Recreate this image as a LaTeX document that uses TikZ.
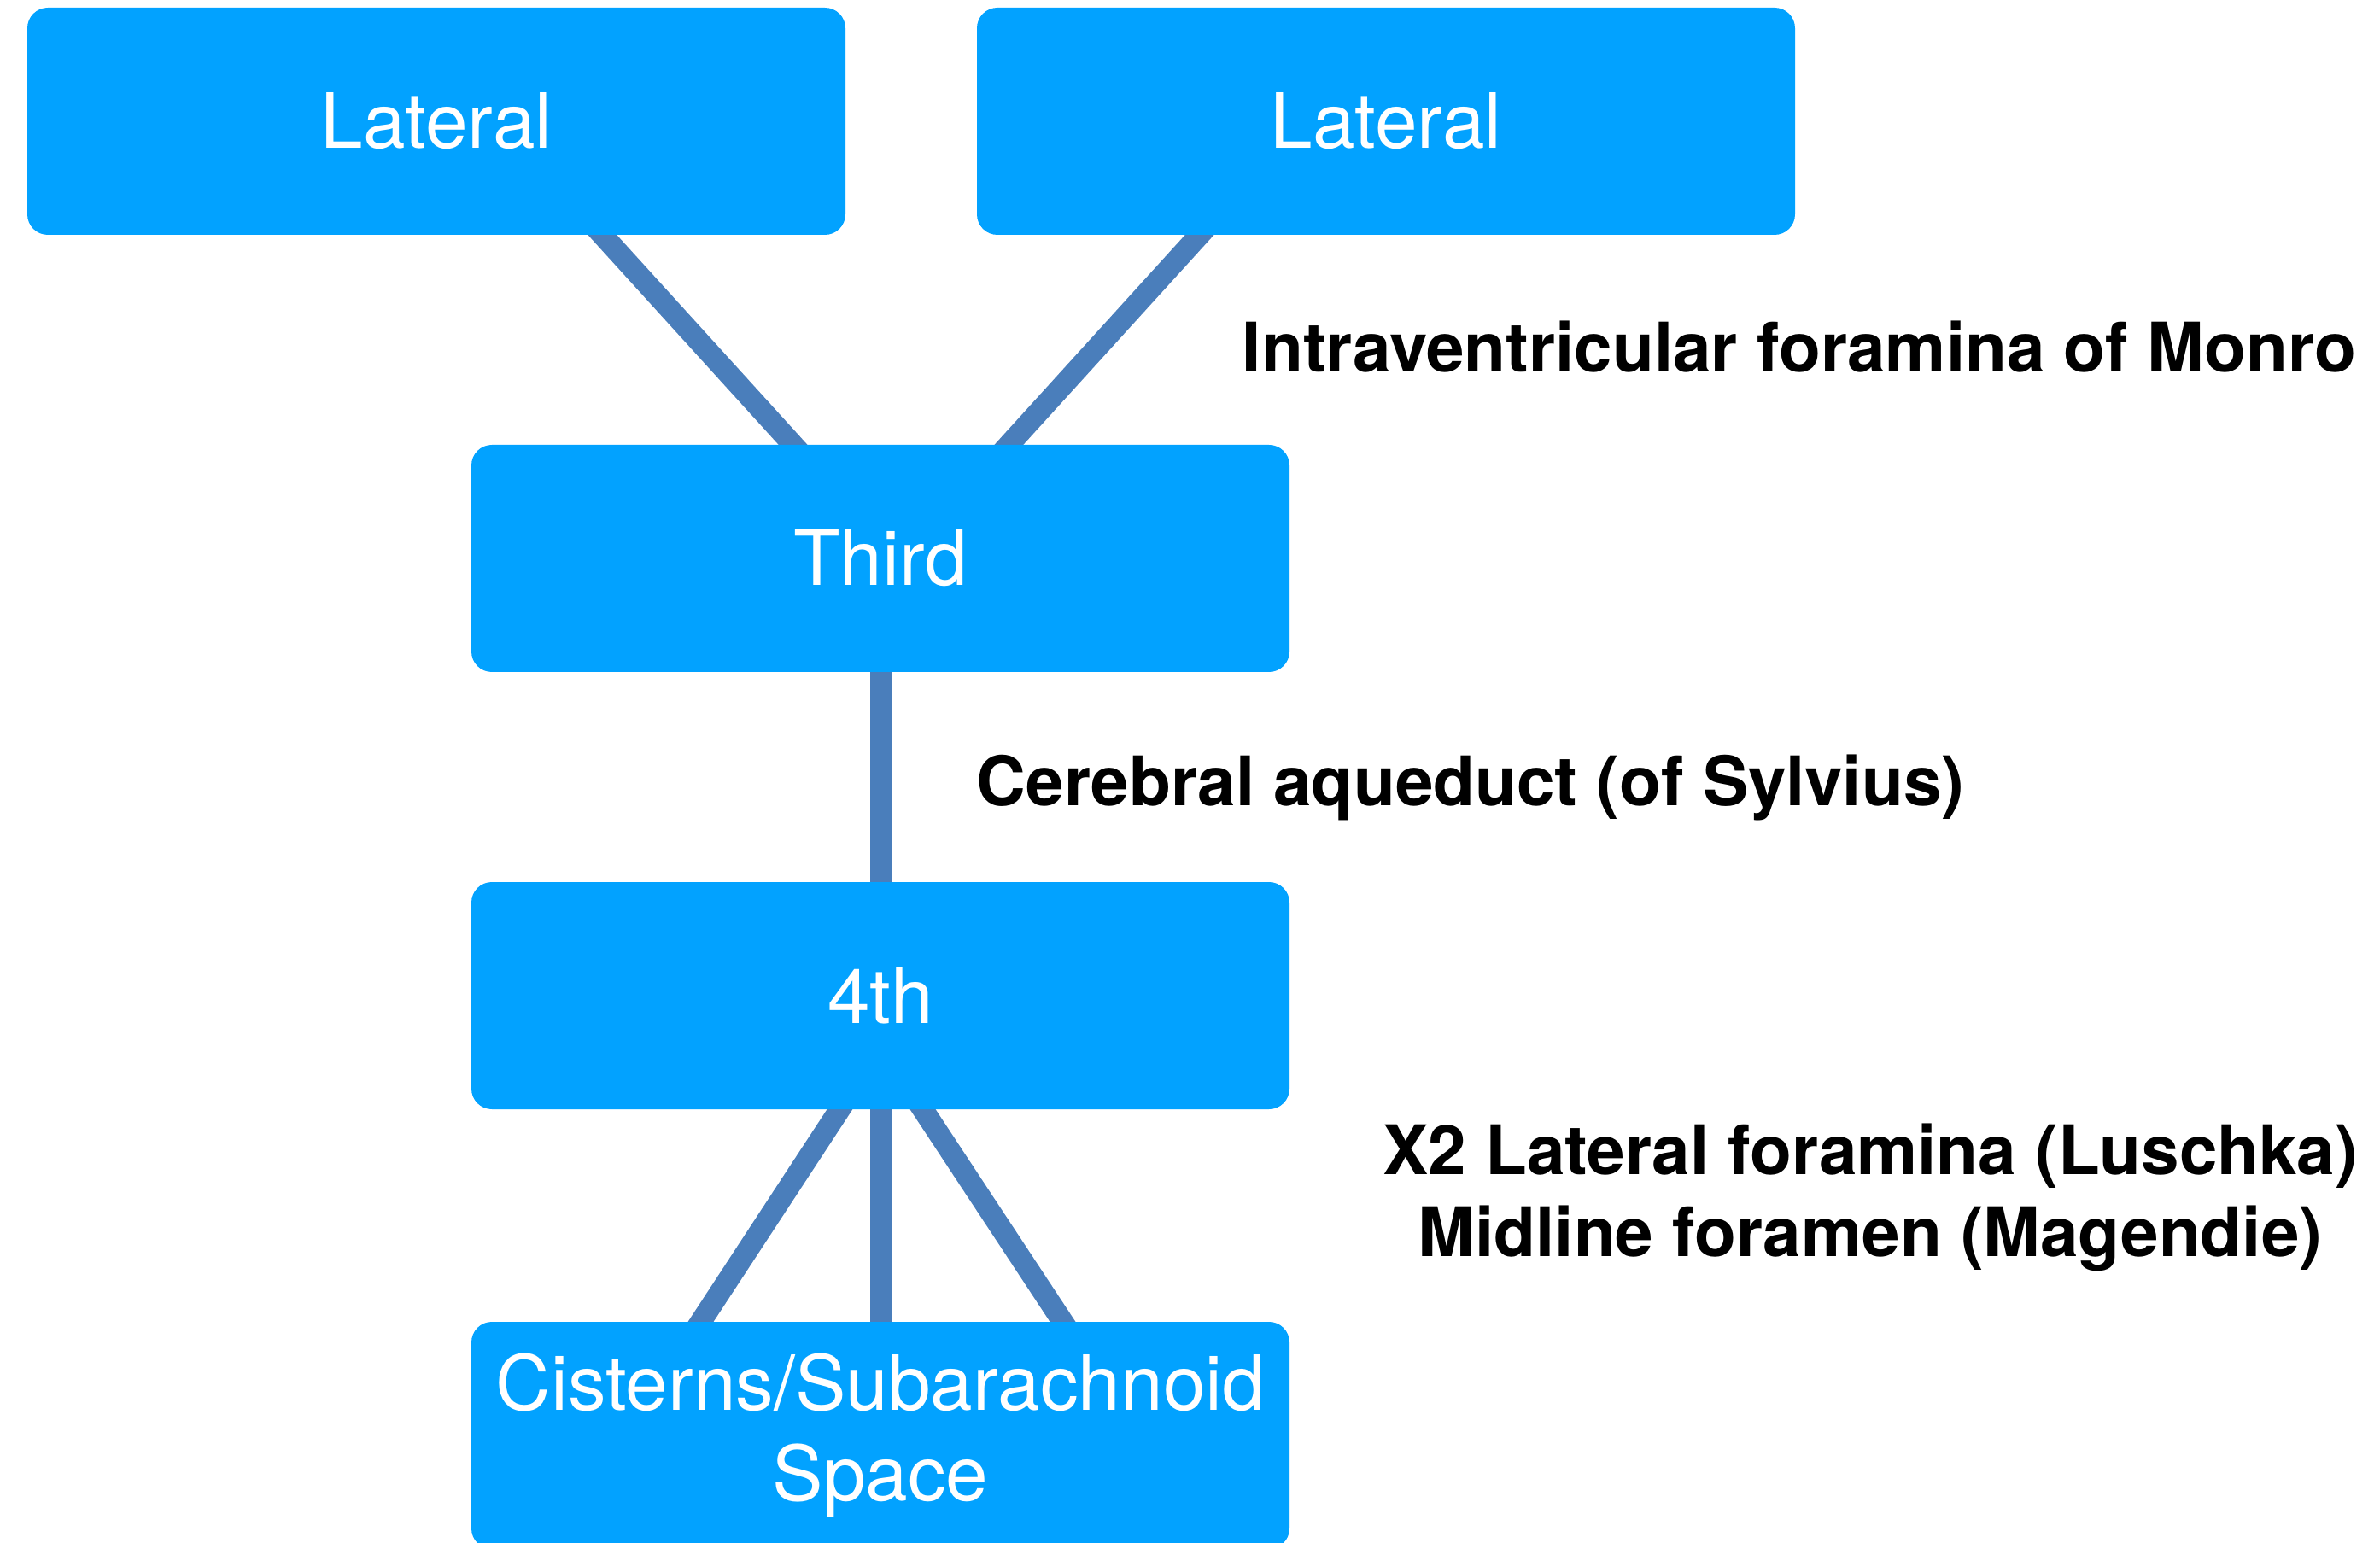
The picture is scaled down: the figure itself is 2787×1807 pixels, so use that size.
\documentclass[tikz,border=0pt]{standalone}
\usepackage{fontspec}
\setmainfont{TeX Gyre Heros}
\usepackage{tikz}
\usetikzlibrary{backgrounds}
\definecolor{boxblue}{RGB}{2,162,255}
\definecolor{ductblue}{RGB}{74,126,187}

\begin{document}
\begin{tikzpicture}[x=0.25pt,y=-0.25pt]
        \useasboundingbox (0,0) rectangle (2787,1807);
        \begin{scope}[every node/.style={fill=boxblue,rounded corners=6pt,minimum width=239.5pt,minimum height=66.5pt,inner sep=0pt,text=white,align=center,font=\fontsize{22.3}{26.6}\selectfont}]
            \node (1) at (511,142) {Lateral};
            \node (2) at (1623,142) {Lateral};

            \node (3) at (1031,654) {Third};

            \node (4) at (1031,1166) {4th};

            \node (5) at (1031,1681) {Cisterns/Subarachnoid\\Space};
        \end{scope}
        \begin{scope}[every node/.style={font=\bfseries\fontsize{20}{24}\selectfont,align=center}]
            \node (6) at (2107,406) {Intraventricular foramina of Monro};
            \node (7) at (1722,922) {Cerebral aqueduct (of Sylvius)};
            \node (8) at (2190,1402) {X2 Lateral foramina (Luschka)\\Midline foramen (Magendie)};
        \end{scope}
        \begin{scope}[on background layer,every edge/.style={draw=ductblue,line width=6.25pt,shorten <=-8pt,shorten >=-8pt}]
            \path [-] ([xshift=48.75pt]1.south) edge node {} ([xshift=-25.75pt]3.north);
            \path [-] ([xshift=-54.75pt]2.south) edge node {} ([xshift=37.75pt]3.north);

            \path [-] (3.south) edge node {} (4.north);

            \path [-] ([xshift=-12pt]4.south) edge node {} ([xshift=-52.5pt]5.north);
            \path [-] (4.south) edge node {} (5.north);
            \path [-] ([xshift=12.5pt]4.south) edge node {} ([xshift=53.25pt]5.north);
        \end{scope}
    \end{tikzpicture}
\end{document}
